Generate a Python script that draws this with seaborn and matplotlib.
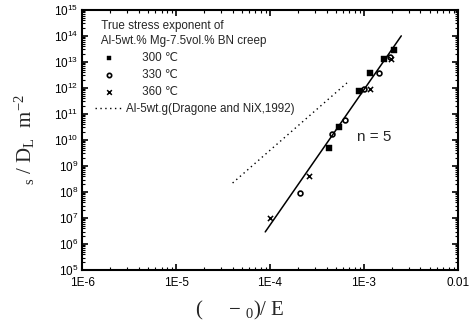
import numpy as np
import pandas as pd
import matplotlib
matplotlib.use("Agg")
import matplotlib.pyplot as plt
import matplotlib.ticker as mticker
import seaborn as sns

sns.set_theme(style="ticks")
plt.rcParams['font.family'] = ['Liberation Sans', 'DejaVu Sans']
plt.rcParams['mathtext.fontset'] = 'custom'
plt.rcParams['mathtext.rm'] = 'Liberation Serif'
plt.rcParams['mathtext.it'] = 'Liberation Serif:italic'

# ---- data ----
x300 = [4.25e-4, 5.4e-4, 8.8e-4, 1.16e-3, 1.63e-3, 2.09e-3]
y300 = [4.9e9, 3.2e10, 7.6e11, 3.8e12, 1.3e13, 2.9e13]
x330 = [2.09e-4, 4.6e-4, 6.3e-4, 1.0e-3, 1.45e-3, 1.89e-3]
y330 = [9.0e7, 1.7e10, 5.9e10, 9.2e11, 3.8e12, 1.56e13]
x360 = [1.0e-4, 2.6e-4, 1.16e-3, 1.95e-3]
y360 = [1.0e7, 4.1e8, 9.2e11, 1.3e13]
fit_x = [8.9e-5, 2.5e-3]
fit_y = [2.9e6, 1.0e14]
ref_x = [4.0e-5, 6.6e-4]
ref_y = [2.2e8, 1.55e12]
xtick_vals = [1e-6, 1e-5, 1e-4, 1e-3, 1e-2]
xtick_labels = ["1E-6", "1E-5", "1E-4", "1E-3", "0.01"]
legend_title = "  True stress exponent of\n  Al-5wt.% Mg-7.5vol.% BN creep"
ser_labels = ["300 \u2103", "330 \u2103", "360 \u2103"]
ref_label = "Al-5wt.g(Dragone and NiX,1992)"

fig = plt.figure(figsize=(4.72, 3.28), dpi=100)
ax = fig.add_axes([0.174, 0.177, 0.796, 0.793])

df300 = pd.DataFrame({"x": x300, "y": y300})
df330 = pd.DataFrame({"x": x330, "y": y330})
df360 = pd.DataFrame({"x": x360, "y": y360})

sns.lineplot(x=fit_x, y=fit_y, ax=ax, color="black", lw=1.1, legend=False)
sns.lineplot(x=ref_x, y=ref_y, ax=ax, color="black", lw=1.0, linestyle=(0, (1, 2.5)),
             label=ref_label)
sns.scatterplot(data=df300, x="x", y="y", ax=ax, marker="s", s=14, color="black",
                edgecolor="black", label=ser_labels[0])
sns.scatterplot(data=df330, x="x", y="y", ax=ax, marker="o", s=12, facecolor="white",
                edgecolor="black", linewidth=1.2, label=ser_labels[1])
sns.scatterplot(data=df360, x="x", y="y", ax=ax, marker="x", s=14, color="black",
                linewidth=1.1, label=ser_labels[2])

ax.set_xscale("log")
ax.set_yscale("log")
ax.set_xlim(1e-6, 1e-2)
ax.set_ylim(1e5, 1e15)

ax.xaxis.set_major_locator(mticker.FixedLocator(xtick_vals))
ax.xaxis.set_major_formatter(mticker.FixedFormatter(xtick_labels))
ax.xaxis.set_minor_locator(mticker.LogLocator(base=10, subs=np.arange(2, 10), numticks=20))
ax.xaxis.set_minor_formatter(mticker.NullFormatter())
ax.yaxis.set_major_locator(mticker.LogLocator(base=10, numticks=20))
ax.yaxis.set_minor_locator(mticker.LogLocator(base=10, subs=np.arange(2, 10), numticks=20))
ax.yaxis.set_minor_formatter(mticker.NullFormatter())

ax.tick_params(which="both", direction="in", top=True, right=True, colors="black",
               labelsize=8.5)
ax.tick_params(axis="x", which="major", pad=5)
ax.tick_params(axis="y", which="major", pad=3)
ax.tick_params(which="major", length=4, width=1.2)
ax.tick_params(which="minor", length=2, width=0.8)
for sp in ax.spines.values():
    sp.set_linewidth(1.5)
    sp.set_color("black")

ax.set_xlabel("(     \u2212 $\\mathrm{_0}$)/ E", family="Liberation Serif", fontsize=15)
ax.xaxis.set_label_coords(0.42, -0.11)
ax.set_ylabel("$\\mathrm{_s}$ / D$\\mathrm{_L}$  m$\\mathrm{^{-2}}$", family="Liberation Serif",
              fontsize=15)
ax.yaxis.set_label_coords(-0.12, 0.5)

ax.text(1.3e-3, 1.3e10, "n = 5", fontsize=11, ha="center", va="center")

h, l = ax.get_legend_handles_labels()
order = [l.index(s) for s in ser_labels] + [l.index(ref_label)]
shown = ["     " + s for s in ser_labels] + [ref_label]
leg = ax.legend([h[i] for i in order], shown, title=legend_title,
                loc="upper left", bbox_to_anchor=(0.035, 0.96), frameon=False,
                fontsize=8.4, title_fontsize=8.4,
                handlelength=2.35, handletextpad=0.25, labelspacing=0.42,
                borderaxespad=0.0, borderpad=0.0, markerscale=0.9)
leg._legend_box.align = "left"
leg.get_title().set_linespacing(1.35)

fig.savefig("out.png", dpi=100)
